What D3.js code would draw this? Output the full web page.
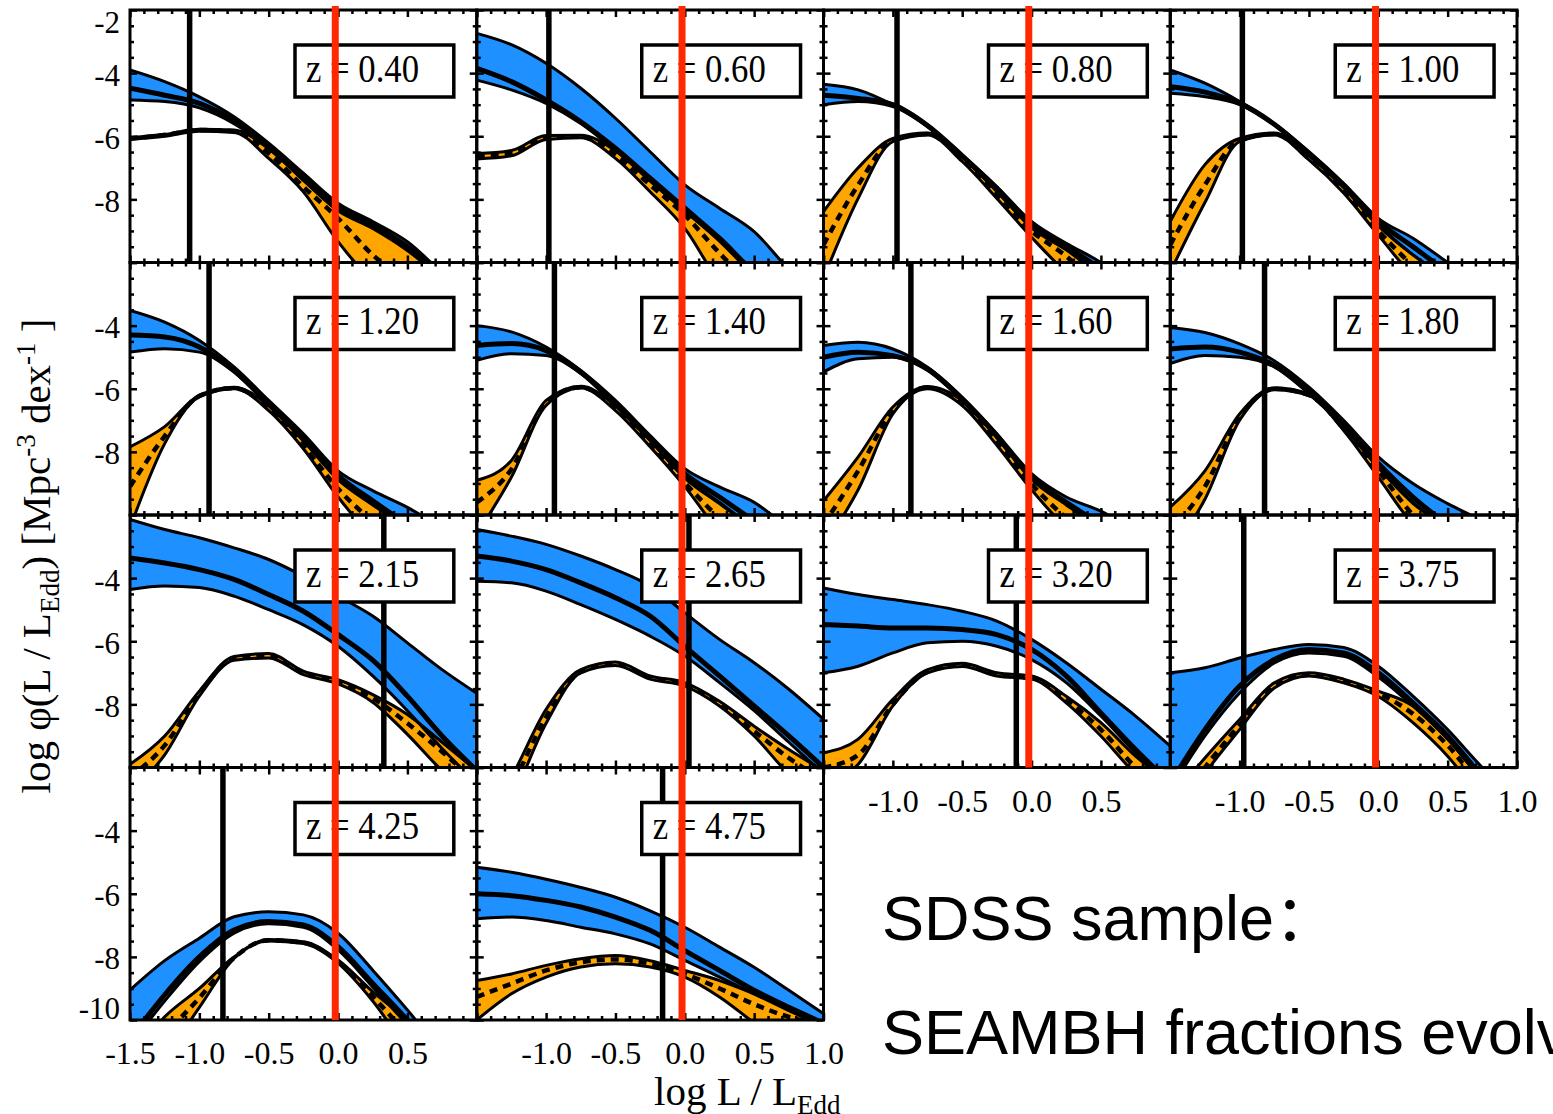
<!DOCTYPE html>
<html><head><meta charset="utf-8">
<script src="https://cdn.jsdelivr.net/npm/d3@7"></script>
<style>html,body{margin:0;padding:0;background:#fff;overflow:hidden}</style>
</head><body><svg id="c" width="1553" height="1114"></svg>
<script>
// ---------------- DATA ----------------
const redshifts = ["0.40","0.60","0.80","1.00","1.20","1.40","1.60","1.80","2.15","2.65","3.20","3.75","4.25","4.75"];
const xGrid = [-1.5,-1.25,-1.0,-0.75,-0.5,-0.25,0.0,0.25,0.5,0.75,1.0];
const cutoffX = [-1.07,-0.98,-0.97,-0.98,-0.93,-0.94,-0.87,-0.82,0.33,0.03,-0.11,-0.97,-0.83,-0.16];
const redLineX = -0.02;

const blueUpper = [
 [-3.90,-4.27,-4.75,-5.38,-6.22,-7.17,-8.12,-8.70,-9.34,-10.3,-11.0],
 [-2.74,-3.10,-3.69,-4.48,-5.43,-6.49,-7.54,-8.28,-9.02,-10.2,-11.0],
 [-4.35,-4.53,-5.00,-5.64,-6.59,-7.60,-8.70,-9.39,-10.0,-10.8,-11.5],
 [-3.90,-4.32,-4.90,-5.60,-6.49,-7.49,-8.60,-9.23,-10.0,-10.8,-11.5],
 [-3.52,-3.89,-4.47,-5.31,-6.37,-7.43,-8.60,-9.23,-9.76,-10.4,-11.0],
 [-4.00,-4.20,-4.68,-5.42,-6.37,-7.48,-8.53,-9.11,-9.60,-10.4,-11.0],
 [-4.63,-4.53,-4.74,-5.32,-6.27,-7.43,-8.69,-9.43,-9.88,-10.5,-11.0],
 [-4.06,-4.22,-4.58,-5.11,-5.95,-7.00,-8.16,-9.00,-9.64,-10.2,-11.0],
 [-2.14,-2.46,-2.72,-3.04,-3.41,-3.94,-4.57,-5.20,-6.05,-6.90,-7.65],
 [-2.46,-2.67,-2.93,-3.30,-3.73,-4.25,-5.10,-5.94,-6.68,-7.52,-8.47],
 [-4.31,-4.52,-4.68,-4.84,-5.05,-5.36,-5.94,-6.68,-7.52,-8.37,-9.32],
 [-7.00,-6.84,-6.53,-6.26,-6.10,-6.20,-6.79,-7.74,-8.80,-10.0,-11.0],
 [-9.05,-8.12,-7.41,-6.73,-6.57,-6.67,-7.25,-8.42,-9.68,-11.0,-12.0],
 [-5.16,-5.32,-5.54,-5.80,-6.11,-6.54,-7.06,-7.69,-8.33,-9.06,-9.80]
];
const blueMid = [
 [-4.48,-4.70,-4.96,-5.50,-6.30,-7.28,-8.23,-8.80,-9.50,-10.4,-11.2],
 [-3.85,-4.27,-4.85,-5.54,-6.38,-7.33,-8.28,-9.23,-10.3,-11.0,-12.0],
 [-4.70,-4.80,-5.00,-5.66,-6.62,-7.65,-8.80,-9.50,-10.2,-11.0,-12.0],
 [-4.43,-4.60,-4.95,-5.62,-6.54,-7.55,-8.70,-9.50,-10.3,-11.0,-12.0],
 [-4.30,-4.36,-4.68,-5.42,-6.48,-7.58,-8.75,-9.55,-10.3,-11.0,-12.0],
 [-4.63,-4.57,-4.79,-5.47,-6.48,-7.58,-8.69,-9.43,-10.2,-11.0,-12.0],
 [-5.00,-4.84,-4.95,-5.37,-6.32,-7.48,-8.80,-9.60,-10.3,-11.0,-12.0],
 [-4.74,-4.68,-4.84,-5.26,-6.10,-7.16,-8.37,-9.43,-10.3,-11.0,-12.0],
 [-3.36,-3.52,-3.73,-4.04,-4.52,-5.05,-5.79,-6.60,-7.74,-9.00,-10.1],
 [-3.30,-3.46,-3.73,-4.15,-4.62,-5.20,-6.16,-7.10,-8.05,-9.00,-10.0],
 [-5.47,-5.52,-5.58,-5.58,-5.63,-5.79,-6.26,-7.10,-8.27,-9.43,-10.5],
 [-10.5,-8.80,-7.42,-6.58,-6.26,-6.37,-7.00,-7.95,-9.00,-10.3,-11.5],
 [-10.6,-9.20,-8.00,-7.15,-6.88,-6.99,-7.68,-8.84,-10.0,-11.2,-12.5],
 [-6.00,-6.06,-6.21,-6.42,-6.74,-7.16,-7.80,-8.43,-9.06,-9.60,-10.1]
];
const blueLower = [
 [-4.85,-4.90,-5.10,-5.60,-6.38,-7.38,-8.34,-8.90,-9.60,-10.5,-11.3],
 [-4.22,-4.53,-4.96,-5.60,-6.45,-7.40,-8.35,-9.30,-10.4,-11.2,-12.0],
 [-5.00,-4.90,-5.06,-5.70,-6.65,-7.75,-8.90,-9.60,-10.4,-11.0,-12.0],
 [-4.64,-4.75,-5.00,-5.64,-6.59,-7.60,-8.80,-9.76,-10.5,-11.2,-12.0],
 [-4.84,-4.73,-4.84,-5.47,-6.53,-7.63,-8.85,-9.65,-10.4,-11.0,-12.0],
 [-5.10,-4.89,-4.95,-5.52,-6.53,-7.63,-8.80,-9.60,-10.4,-11.0,-12.0],
 [-5.47,-5.05,-5.00,-5.42,-6.37,-7.53,-8.85,-9.65,-10.4,-11.0,-12.0],
 [-5.20,-4.95,-5.00,-5.31,-6.16,-7.20,-8.48,-9.60,-10.4,-11.0,-12.0],
 [-4.36,-4.25,-4.30,-4.57,-5.00,-5.48,-6.16,-7.10,-8.20,-9.40,-10.5],
 [-4.10,-4.15,-4.41,-4.84,-5.31,-5.84,-6.47,-7.31,-8.20,-9.20,-10.2],
 [-7.00,-6.79,-6.37,-6.05,-6.00,-6.16,-6.58,-7.31,-8.37,-9.53,-10.6],
 [-10.7,-9.00,-7.64,-6.69,-6.37,-6.48,-7.13,-8.05,-9.10,-10.4,-11.5],
 [-10.8,-9.40,-8.15,-7.25,-6.95,-7.06,-7.78,-8.95,-10.15,-11.3,-12.5],
 [-6.79,-6.74,-6.85,-7.06,-7.27,-7.59,-8.11,-8.64,-9.17,-9.70,-10.2]
];
const orangeUpper = [
 [-6.05,-5.94,-5.78,-5.80,-6.40,-7.40,-8.36,-8.92,-9.62,-10.5,-11.3],
 [-6.55,-6.45,-5.98,-5.97,-6.46,-7.42,-8.37,-9.32,-10.4,-11.2,-12.0],
 [-8.39,-7.00,-6.07,-5.90,-6.65,-7.75,-8.85,-9.58,-10.4,-11.0,-12.0],
 [-8.70,-6.90,-6.07,-5.90,-6.62,-7.63,-8.84,-9.76,-10.5,-11.2,-12.0],
 [-7.84,-7.20,-6.20,-5.95,-6.53,-7.65,-8.88,-9.68,-10.4,-11.0,-12.0],
 [-8.90,-8.27,-6.37,-5.92,-6.54,-7.64,-8.83,-9.64,-10.4,-11.0,-12.0],
 [-9.55,-8.16,-6.58,-5.93,-6.38,-7.56,-8.87,-9.68,-10.4,-11.0,-12.0],
 [-9.75,-8.60,-6.80,-5.97,-6.17,-7.22,-8.50,-9.63,-10.4,-11.0,-12.0],
 [-9.90,-9.00,-7.58,-6.48,-6.39,-6.95,-7.22,-7.69,-8.32,-9.20,-10.1],
 [-12.0,-10.3,-8.16,-6.90,-6.66,-7.10,-7.31,-7.90,-8.69,-9.43,-10.1],
 [-9.53,-9.10,-7.84,-6.90,-6.70,-7.00,-7.10,-7.74,-8.58,-9.64,-10.5],
 [-11.0,-9.70,-8.48,-7.32,-7.00,-7.20,-7.58,-8.05,-9.10,-10.4,-11.5],
 [-11.2,-9.90,-9.00,-8.00,-7.45,-7.52,-8.10,-9.10,-10.0,-11.0,-12.0],
 [-8.75,-8.54,-8.27,-8.06,-7.96,-8.12,-8.43,-8.75,-9.17,-9.65,-10.1]
];
const orangeMid = [
 [-6.07,-5.96,-5.80,-5.84,-6.54,-7.60,-8.60,-9.76,-10.6,-11.5,-12.0],
 [-6.63,-6.53,-6.04,-6.01,-6.60,-7.54,-8.50,-9.70,-10.8,-11.5,-12.0],
 [-9.44,-7.54,-6.12,-5.93,-6.72,-7.86,-9.00,-9.80,-10.8,-11.5,-12.0],
 [-9.44,-7.54,-6.12,-5.93,-6.70,-7.72,-9.00,-10.1,-11.0,-11.5,-12.0],
 [-9.10,-7.50,-6.23,-5.98,-6.61,-7.80,-9.17,-10.2,-11.0,-12.0,-12.5],
 [-9.60,-8.55,-6.45,-5.95,-6.60,-7.74,-8.98,-10.1,-11.0,-12.0,-12.5],
 [-10.3,-8.60,-6.69,-5.96,-6.45,-7.66,-9.02,-10.1,-11.0,-12.0,-12.5],
 [-10.5,-9.10,-6.90,-6.00,-6.20,-7.26,-8.60,-10.0,-11.0,-12.0,-12.5],
 [-10.3,-9.30,-7.65,-6.55,-6.46,-7.00,-7.30,-7.80,-8.60,-9.50,-10.5],
 [-12.3,-10.6,-8.40,-6.97,-6.72,-7.15,-7.38,-8.00,-8.85,-9.70,-10.4],
 [-10.0,-9.60,-8.00,-6.97,-6.75,-7.06,-7.15,-7.85,-8.80,-10.0,-11.0],
 [-11.5,-10.0,-8.65,-7.40,-7.05,-7.27,-7.65,-8.30,-9.30,-10.6,-11.5],
 [-12.0,-10.5,-9.30,-8.03,-7.47,-7.55,-8.15,-9.25,-10.45,-11.5,-12.5],
 [-9.27,-8.85,-8.43,-8.17,-8.08,-8.22,-8.54,-9.00,-9.50,-9.90,-10.15]
];
const orangeLower = [
 [-6.10,-6.00,-5.84,-5.88,-6.70,-7.76,-9.34,-10.6,-11.5,-12.0,-12.5],
 [-6.72,-6.62,-6.10,-6.05,-6.70,-7.76,-8.92,-10.6,-11.5,-12.0,-12.5],
 [-10.5,-7.97,-6.17,-5.96,-6.80,-7.97,-9.20,-10.3,-11.0,-12.0,-12.5],
 [-10.3,-8.10,-6.17,-5.96,-6.75,-7.80,-9.13,-10.4,-11.0,-12.0,-12.5],
 [-10.4,-7.74,-6.26,-6.00,-6.69,-7.90,-9.43,-10.7,-11.5,-12.0,-12.5],
 [-10.6,-8.80,-6.53,-5.98,-6.69,-7.84,-9.10,-10.5,-11.2,-12.0,-12.5],
 [-11.0,-9.20,-6.80,-6.00,-6.53,-7.79,-9.20,-10.4,-11.2,-12.0,-12.5],
 [-11.2,-9.50,-7.00,-6.03,-6.22,-7.32,-8.80,-10.3,-11.2,-12.0,-12.5],
 [-10.8,-9.60,-7.74,-6.60,-6.53,-7.06,-7.35,-7.93,-8.95,-10.1,-11.0],
 [-12.5,-11.0,-8.60,-7.00,-6.77,-7.20,-7.42,-8.05,-9.00,-10.2,-11.0],
 [-10.5,-9.90,-8.05,-7.00,-6.80,-7.10,-7.20,-7.95,-9.00,-10.2,-11.0],
 [-12.0,-10.2,-8.80,-7.48,-7.10,-7.32,-7.75,-8.58,-9.64,-11.0,-12.0],
 [-12.5,-11.2,-9.60,-8.05,-7.50,-7.58,-8.20,-9.40,-10.9,-12.0,-13.0],
 [-10.0,-9.17,-8.64,-8.32,-8.22,-8.32,-8.64,-9.27,-10.1,-11.0,-12.0]
];

const xDomain = [-1.5, 1.0];
const yDomain = [-10, -2];
const xMajorTicks = [-1.5,-1.0,-0.5,0.0,0.5,1.0];
const yMajorTicks = [-10,-8,-6,-4,-2];
const yLabelRows = [[-2,-4,-6,-8],[-4,-6,-8],[-4,-6,-8],[-4,-6,-8,-10]];
const xLabelSets = {
  12: [-1.5,-1.0,-0.5,0.0,0.5],
  13: [-1.0,-0.5,0.0,0.5,1.0],
  10: [-1.0,-0.5,0.0,0.5],
  11: [-1.0,-0.5,0.0,0.5,1.0]
};

// ---------------- DRAWING ----------------
const svg = d3.select('#c');
const serif = "'Liberation Serif','Times New Roman',Times,serif";
const sans = "'Liberation Sans',Arial,'Noto Sans CJK SC',sans-serif";
const PL = 130, PT = 10, PW = 346.75, PH = 252.5;
const BLUE = '#1e90ff', ORANGE = '#ffa500', RED = '#ff2800';
svg.append('rect').attr('width',1553).attr('height',1114).attr('fill','#fff');
const defs = svg.append('defs');

const xMinorTicks = d3.range(-15, 11).map(v => v/10).filter(v => Math.abs(v*2 - Math.round(v*2)) > 1e-6);
const yMinorTicks = d3.range(-20, -3).map(v => v/2).filter(v => v % 2 !== 0);

const colScales = [];
const panelLayer = svg.append('g');
const overLayer = svg.append('g');

function tickAxis(axis, transform) {
  const gg = overLayer.append('g').attr('transform', transform).call(axis);
  gg.select('.domain').remove();
  gg.selectAll('line').attr('stroke','#000').attr('stroke-width',2.5);
  gg.selectAll('text').remove();
}

redshifts.forEach((z, i) => {
  const col = i % 4, row = Math.floor(i / 4);
  const x0 = PL + col*PW, y0 = PT + row*PH;
  const x = d3.scaleLinear().domain(xDomain).range([x0, x0 + PW]);
  const y = d3.scaleLinear().domain(yDomain).range([y0 + PH, y0]);
  colScales[col] = x;

  defs.append('clipPath').attr('id','clip'+i).append('rect')
    .attr('x',x0).attr('y',y0).attr('width',PW).attr('height',PH);
  const g = panelLayer.append('g').attr('clip-path',`url(#clip${i})`);

  const area = d3.area().x((d,j) => x(xGrid[j])).y0(d => y(d[1])).y1(d => y(d[0])).curve(d3.curveMonotoneX);
  const line = d3.line().x((d,j) => x(xGrid[j])).y(d => y(d)).curve(d3.curveMonotoneX);

  const bBand = xGrid.map((_, j) => [blueUpper[i][j], blueLower[i][j]]);
  const oBand = xGrid.map((_, j) => [orangeUpper[i][j], orangeLower[i][j]]);

  g.append('path').attr('d', area(bBand)).attr('fill', BLUE);
  g.append('path').attr('d', area(oBand)).attr('fill', ORANGE);
  [blueUpper[i], blueLower[i], orangeUpper[i], orangeLower[i]].forEach(arr => {
    g.append('path').attr('d', line(arr)).attr('fill','none').attr('stroke','#000').attr('stroke-width',3);
  });
  g.append('path').attr('d', line(blueMid[i])).attr('fill','none').attr('stroke','#000').attr('stroke-width',5);
  g.append('path').attr('d', line(orangeMid[i])).attr('fill','none').attr('stroke','#000')
    .attr('stroke-width',4.5).attr('stroke-dasharray','8,6');
  g.append('line').attr('x1', x(cutoffX[i])).attr('x2', x(cutoffX[i]))
    .attr('y1', y0).attr('y2', y0 + PH).attr('stroke','#000').attr('stroke-width',5.5);

  // ticks (inward on all four sides)
  tickAxis(d3.axisBottom(x).tickValues(xMajorTicks).tickSize(-7).tickSizeOuter(0), `translate(0,${y0+PH})`);
  tickAxis(d3.axisBottom(x).tickValues(xMinorTicks).tickSize(-4).tickSizeOuter(0), `translate(0,${y0+PH})`);
  tickAxis(d3.axisTop(x).tickValues(xMajorTicks).tickSize(-7).tickSizeOuter(0), `translate(0,${y0})`);
  tickAxis(d3.axisTop(x).tickValues(xMinorTicks).tickSize(-4).tickSizeOuter(0), `translate(0,${y0})`);
  tickAxis(d3.axisLeft(y).tickValues(yMajorTicks).tickSize(-7).tickSizeOuter(0), `translate(${x0},0)`);
  tickAxis(d3.axisLeft(y).tickValues(yMinorTicks).tickSize(-4).tickSizeOuter(0), `translate(${x0},0)`);
  tickAxis(d3.axisRight(y).tickValues(yMajorTicks).tickSize(-7).tickSizeOuter(0), `translate(${x0+PW},0)`);
  tickAxis(d3.axisRight(y).tickValues(yMinorTicks).tickSize(-4).tickSizeOuter(0), `translate(${x0+PW},0)`);

  overLayer.append('rect').attr('x',x0).attr('y',y0).attr('width',PW).attr('height',PH)
    .attr('fill','none').attr('stroke','#000').attr('stroke-width',3);

  // y tick labels
  if (col === 0) {
    const ya = d3.axisLeft(y).tickValues(yLabelRows[row]).tickSize(0).tickFormat(d => String(d));
    const gy = overLayer.append('g').attr('transform',`translate(${x0},0)`).call(ya);
    gy.select('.domain').remove();
    gy.selectAll('text').attr('x',-10).attr('dy',null)
      .attr('y', d => d === -2 ? 22 : (d === -10 ? -2 : 12))
      .attr('font-family', serif).attr('font-size', 31).attr('fill','#000');
  }
  // x tick labels
  if (xLabelSets[i]) {
    const xa = d3.axisBottom(x).tickValues(xLabelSets[i]).tickSize(0).tickFormat(d => d.toFixed(1));
    const gx = overLayer.append('g').attr('transform',`translate(0,${y0+PH})`).call(xa);
    gx.select('.domain').remove();
    gx.selectAll('text').attr('y',44).attr('dy',null)
      .attr('font-family', serif).attr('font-size', 32).attr('fill','#000');
  }

  // redshift label box
  overLayer.append('rect').attr('x', x0 + 165).attr('y', y0 + 35).attr('width', 158.8).attr('height', 52)
    .attr('fill','#fff').attr('stroke','#000').attr('stroke-width',3.5);
  overLayer.append('text').attr('x', x0 + 176).attr('y', y0 + 71.5)
    .attr('font-family', serif).attr('font-size', 40)
    .attr('textLength', 113).attr('lengthAdjust','spacingAndGlyphs')
    .text('z = ' + z);
});

// red vertical markers (drawn over everything)
[0,1,2,3].forEach(col => {
  const x = colScales[col];
  const yBottom = col < 2 ? PT + 4*PH : PT + 3*PH;
  overLayer.append('line').attr('x1', x(redLineX)).attr('x2', x(redLineX))
    .attr('y1', 6).attr('y2', yBottom).attr('stroke', RED).attr('stroke-width', 7);
});

// axis titles
const xt = svg.append('text').attr('x', 654).attr('y', 1105)
  .attr('font-family', serif).attr('font-size', 41).attr('fill','#000');
xt.append('tspan').text('log L / L');
xt.append('tspan').attr('font-size', 27).attr('dy', 9).text('Edd');

const yt = svg.append('text').attr('transform','translate(50,556) rotate(-90)')
  .attr('text-anchor','middle').attr('font-family', serif).attr('font-size', 41).attr('fill','#000');
yt.append('tspan').text('log φ(L / L');
yt.append('tspan').attr('font-size', 27).attr('dy', 9).text('Edd');
yt.append('tspan').attr('dy', -9).text(') [Mpc');
yt.append('tspan').attr('font-size', 27).attr('dy', -15).text('-3');
yt.append('tspan').attr('dy', 15).text(' dex');
yt.append('tspan').attr('font-size', 27).attr('dy', -15).text('-1');
yt.append('tspan').attr('dy', 15).text(' ]');

// annotation text
svg.append('text').attr('x', 882).attr('y', 940).attr('font-family', sans).attr('font-size', 63)
  .attr('fill','#000').text('SDSS sample：');
svg.append('text').attr('x', 882).attr('y', 1054).attr('font-family', sans).attr('font-size', 63)
  .attr('fill','#000').text('SEAMBH fractions evolve');
</script>
</body></html>
